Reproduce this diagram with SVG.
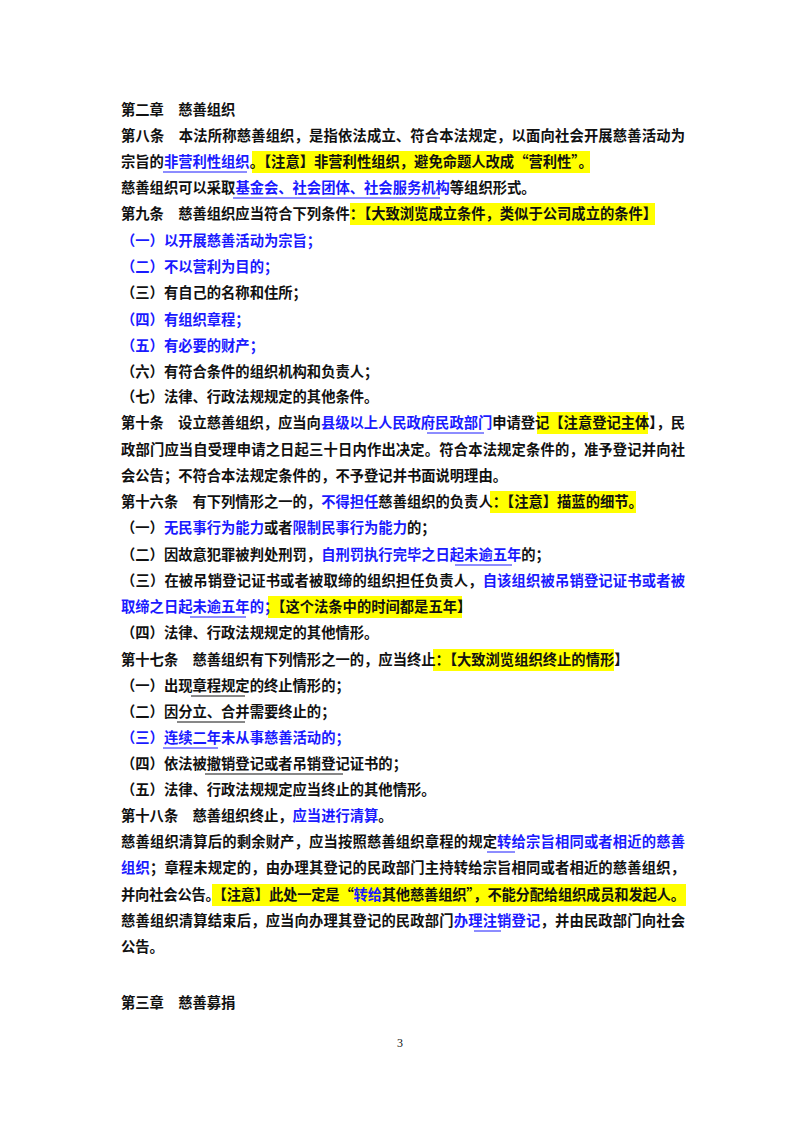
<svg xmlns="http://www.w3.org/2000/svg" width="800" height="1132" viewBox="0 0 800 1132">
<style>
text{font-family:"Noto Sans CJK SC","Liberation Sans",sans-serif;font-size:14.3px;font-weight:bold;fill:#111}
.b{fill:#1a1aff}
.hl{fill:#ffff00}
.u{stroke:#111;stroke-width:1}
.ub{stroke:#1a1aff;stroke-width:1}
</style>
<rect width="800" height="1132" fill="#fff"/>
<g id="highlights">
<rect class="hl" x="252" y="151" width="338" height="22"/>
<rect class="hl" x="350" y="203" width="305" height="22"/>
<rect class="hl" x="537" y="412" width="111" height="22"/>
<rect class="hl" x="490" y="491" width="146" height="22"/>
<rect class="hl" x="268" y="596" width="194" height="22"/>
<rect class="hl" x="433" y="649" width="181" height="22"/>
<rect class="hl" x="212" y="884" width="474" height="22"/>
</g>
<g id="underlines">
<line class="ub" x1="163" y1="172" x2="247" y2="172"/>
<line class="ub" x1="233" y1="198" x2="440" y2="198"/>
<line class="ub" x1="427" y1="433" x2="484" y2="433"/>
<line class="ub" x1="455" y1="565" x2="512" y2="565"/>
<line class="ub" x1="190" y1="617" x2="246" y2="617"/>
<line class="u" x1="191" y1="696" x2="245" y2="696"/>
<line class="u" x1="177" y1="722" x2="245" y2="722"/>
<line class="ub" x1="163" y1="748" x2="218" y2="748"/>
<line class="u" x1="205" y1="774" x2="343" y2="774"/>
<line class="ub" x1="487" y1="852" x2="515" y2="852"/>
<line class="ub" x1="474" y1="931" x2="501" y2="931"/>
</g>
<g id="text">
<text x="121" y="115">第二章　慈善组织</text>
<text x="121" y="141" textLength="564" lengthAdjust="spacing">第八条　本法所称慈善组织，是指依法成立、符合本法规定，以面向社会开展慈善活动为</text>
<text x="121" y="167">宗旨的<tspan class="b">非营利性组织</tspan>。【注意】非营利性组织，避免命题人改成“营利性”。</text>
<text x="121" y="193">慈善组织可以采取<tspan class="b">基金会、社会团体、社会服务机构</tspan>等组织形式。</text>
<text x="121" y="219">第九条　慈善组织应当符合下列条件：【大致浏览成立条件，类似于公司成立的条件】</text>
<text x="121" y="246" class="b">（一）以开展慈善活动为宗旨；</text>
<text x="121" y="272" class="b">（二）不以营利为目的；</text>
<text x="121" y="298">（三）有自己的名称和住所；</text>
<text x="121" y="325" class="b">（四）有组织章程；</text>
<text x="121" y="351" class="b">（五）有必要的财产；</text>
<text x="121" y="377">（六）有符合条件的组织机构和负责人；</text>
<text x="121" y="402">（七）法律、行政法规规定的其他条件。</text>
<text x="121" y="428" textLength="564" lengthAdjust="spacing">第十条　设立慈善组织，应当向<tspan class="b">县级以上人民政府民政部门</tspan>申请登记【注意登记主体】，民</text>
<text x="121" y="455" textLength="564" lengthAdjust="spacing">政部门应当自受理申请之日起三十日内作出决定。符合本法规定条件的，准予登记并向社</text>
<text x="121" y="481">会公告；不符合本法规定条件的，不予登记并书面说明理由。</text>
<text x="121" y="507">第十六条　有下列情形之一的，<tspan class="b">不得担任</tspan>慈善组织的负责人：【注意】描蓝的细节。</text>
<text x="121" y="533">（一）<tspan class="b">无民事行为能力</tspan>或者<tspan class="b">限制民事行为能力</tspan>的；</text>
<text x="121" y="560">（二）因故意犯罪被判处刑罚，<tspan class="b">自刑罚执行完毕之日起未逾五年</tspan>的；</text>
<text x="121" y="586" textLength="564" lengthAdjust="spacing">（三）在被吊销登记证书或者被取缔的组织担任负责人，<tspan class="b">自该组织被吊销登记证书或者被</tspan></text>
<text x="121" y="612"><tspan class="b">取缔之日起未逾五年的；</tspan>【这个法条中的时间都是五年】</text>
<text x="121" y="638">（四）法律、行政法规规定的其他情形。</text>
<text x="121" y="665">第十七条　慈善组织有下列情形之一的，应当终止：【大致浏览组织终止的情形】</text>
<text x="121" y="691">（一）出现章程规定的终止情形的；</text>
<text x="121" y="717">（二）因分立、合并需要终止的；</text>
<text x="121" y="743" class="b">（三）连续二年未从事慈善活动的；</text>
<text x="121" y="769">（四）依法被撤销登记或者吊销登记证书的；</text>
<text x="121" y="795">（五）法律、行政法规规定应当终止的其他情形。</text>
<text x="121" y="821">第十八条　慈善组织终止，<tspan class="b">应当进行清算</tspan>。</text>
<text x="121" y="847" textLength="564" lengthAdjust="spacing">慈善组织清算后的剩余财产，应当按照慈善组织章程的规定<tspan class="b">转给宗旨相同或者相近的慈善</tspan></text>
<text x="121" y="873" textLength="564" lengthAdjust="spacing"><tspan class="b">组织</tspan>；章程未规定的，由办理其登记的民政部门主持转给宗旨相同或者相近的慈善组织，</text>
<text x="121" y="900" textLength="564" lengthAdjust="spacing">并向社会公告。【注意】此处一定是“<tspan class="b">转给</tspan>其他慈善组织”，不能分配给组织成员和发起人。</text>
<text x="121" y="926" textLength="564" lengthAdjust="spacing">慈善组织清算结束后，应当向办理其登记的民政部门<tspan class="b">办理注销登记</tspan>，并由民政部门向社会</text>
<text x="121" y="952">公告。</text>
<text x="121" y="1008">第三章　慈善募捐</text>
<text x="400" y="1047" text-anchor="middle" style="font-family:'Liberation Serif',serif;font-weight:normal;font-size:12px">3</text>
</g>
</svg>
